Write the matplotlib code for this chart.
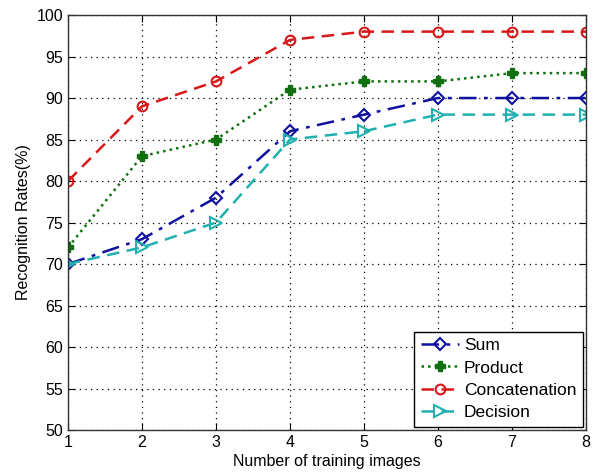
import matplotlib
matplotlib.use("Agg")
import matplotlib.pyplot as plt

x = [1, 2, 3, 4, 5, 6, 7, 8]
sum_rates = [70, 73, 78, 86, 88, 90, 90, 90]
product_rates = [72, 83, 85, 91, 92, 92, 93, 93]
concat_rates = [80, 89, 92, 97, 98, 98, 98, 98]
decision_rates = [70, 72, 75, 85, 86, 88, 88, 88]
labels = ["Sum", "Product", "Concatenation", "Decision"]

plt.rcParams['font.family'] = ['Liberation Sans', 'DejaVu Sans']
fig = plt.figure(figsize=(5.93, 4.74), dpi=100)
ax = fig.add_axes([0.1147, 0.0928, 0.8735, 0.8755])

ax.plot(x, sum_rates, color='#1010a0', linestyle='-.', marker='D', markersize=6,
        markerfacecolor='none', markeredgewidth=1.5, linewidth=1.8, label=labels[0],
        dashes=[7, 3, 1.5, 3])
ax.plot(x, product_rates, color='#107010', linestyle=':', marker='P', markersize=6.5,
        markerfacecolor='#107010', linewidth=1.8, label=labels[1])
ax.plot(x, concat_rates, color='#d81818', linestyle='--', marker='o', markersize=7,
        markerfacecolor='none', markeredgewidth=1.5, linewidth=1.8, label=labels[2],
        dashes=[5, 3])
ax.plot(x, decision_rates, color='#20b0b0', linestyle='--', marker='>', markersize=8,
        markerfacecolor='none', markeredgewidth=1.5, linewidth=1.8, label=labels[3],
        dashes=[5, 3])

ax.set_xlim(1, 8)
ax.set_ylim(50, 100)
ax.set_xticks(x)
ax.set_yticks(range(50, 101, 5))
ax.grid(True, color='black', linestyle=(0, (1, 3.5)), linewidth=0.9)
ax.tick_params(direction='in', top=True, right=True, labelsize=11.5, length=5)
for s in ax.spines.values():
    s.set_linewidth(1.0)
    s.set_color('#333333')
ax.set_xlabel("Number of training images", fontsize=11.5, labelpad=3)
ax.set_ylabel("Recognition Rates(%)", fontsize=11.5, labelpad=4)
leg = ax.legend(loc='lower right', fontsize=12.5, fancybox=False, framealpha=1,
                edgecolor='black', borderaxespad=0.2, handlelength=2.2,
                labelspacing=0.42, handletextpad=0.3, borderpad=0.35)
leg.get_frame().set_linewidth(1.0)
fig.savefig("out.png", dpi=100)
